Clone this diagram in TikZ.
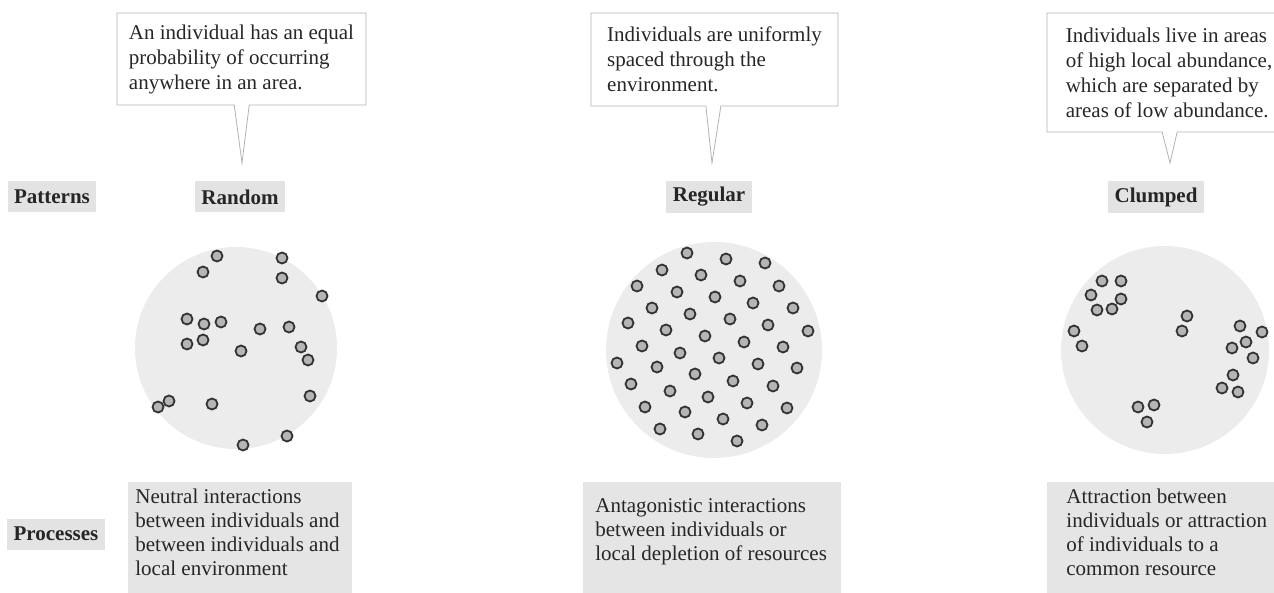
\documentclass[tikz,border=0pt]{standalone}
\usepackage{fontspec}
\setmainfont{Liberation Serif}
\usetikzlibrary{shapes.callouts}

\begin{document}
\begin{tikzpicture}[
  x = 0.5pt,
  y = -0.5pt,
  text = black!85,
  note/.style = {rectangle callout, draw = gray!60, line width = 0.4pt,
    align = left, callout pointer width = 7.5pt,
    font = \fontsize{10.5}{12.5}\selectfont},
  headbox/.style = {fill = gray!22, inner xsep = 3.25pt, minimum height = 15.5pt,
    font = \fontsize{10.5}{12.5}\selectfont\bfseries},
  rowtext/.style = {align = left, inner sep = 0pt, anchor = west,
    font = \fontsize{10.5}{12}\selectfont},
  rowfill/.style = {fill = gray!20},
  area/.style = {fill = gray!15},
  individual/.style = {fill = gray!58, draw = black!80, line width = 0.9pt},
  ]

  \useasboundingbox (0, 0) rectangle (1274, 593);

  % areas
  \fill [area] (236, 348) circle [radius = 101];

  \fill [area] (714, 350) circle [radius = 108];

  \fill [area] (1165, 350) circle [radius = 104];

  \foreach \x/\y in {217/256, 282/258, 203/272, 282/278, 322/296, 187/319,
    204/324, 221/322, 260/329, 289/327, 187/344, 203/340, 241/351, 301/347,
    308/360, 169/401, 158/407, 212/404, 310/396, 287/436, 243/445}
    \draw [individual] (\x, \y) circle [radius = 5.5];

  \foreach \x/\y in {687/253, 726/259, 765/263, 662/270, 701/275, 740/281,
    637/286, 779/286, 677/292, 715/297, 753/303, 652/308, 793/308, 690/314,
    730/319, 628/323, 768/325, 666/330, 808/331, 705/336, 744/342, 642/346,
    783/347, 680/353, 719/358, 617/363, 758/364, 657/367, 797/368, 695/374,
    733/381, 631/384, 773/386, 670/391, 708/397, 747/403, 645/407, 787/408,
    685/412, 723/419, 762/425, 660/429, 698/434, 737/441}
    \draw [individual] (\x, \y) circle [radius = 5.5];

  \foreach \x/\y in {1102/281, 1121/281, 1091/295, 1121/299, 1097/310,
    1112/309, 1074/331, 1082/346, 1187/316, 1182/331, 1240/326, 1262/332,
    1246/342, 1232/348, 1253/358, 1233/375, 1222/388, 1238/392, 1138/407,
    1154/405, 1147/422}
    \draw [individual] (\x, \y) circle [radius = 5.5];

  % patterns
  \node at (52, 197) [headbox, name = Patterns] {Patterns};

  \node at (240, 197) [headbox, name = Random] {Random};

  \node at (709, 197) [headbox, name = Regular] {Regular};

  \node at (1156, 197) [headbox, name = Clumped] {Clumped};

  \coordinate (RandomTip) at (242, 163);

  \coordinate (RegularTip) at (712, 163);

  \coordinate (ClumpedTip) at (1170, 163);

  \node at (241.5, 59)
  [note, name = RandomNote, minimum width = 124.5pt, minimum height = 46pt,
    callout absolute pointer = {(RandomTip)}]
  {An individual has an equal\\probability of occurring\\anywhere in an area.};

  \node at (714.5, 59.5)
  [note, name = RegularNote, minimum width = 123.5pt, minimum height = 46.5pt,
    callout absolute pointer = {(RegularTip)}]
  {Individuals are uniformly\\spaced through the\\environment.};

  \node at (1169, 72.5)
  [note, name = ClumpedNote, minimum width = 122pt, minimum height = 59.5pt,
    callout absolute pointer = {(ClumpedTip)}]
  {Individuals live in areas\\of high local abundance,\\which are separated by\\areas of low abundance.};

  % processes
  \node at (56, 534) [headbox, name = Processes] {Processes};

  \fill [rowfill] (128, 482) rectangle (352, 593);

  \fill [rowfill] (583, 482) rectangle (841, 593);

  \fill [rowfill] (1047, 482) rectangle (1274, 593);

  \node at (135, 532) [rowtext, name = RandomCause]
  {Neutral interactions\\between individuals and\\between individuals and\\local environment};

  \node at (595, 532) [rowtext, name = RegularCause]
  {Antagonistic interactions\\between individuals or\\local depletion of resources};

  \node at (1066, 532) [rowtext, name = ClumpedCause]
  {Attraction between\\individuals or attraction\\of individuals to a\\common resource};

\end{tikzpicture}
\end{document}
